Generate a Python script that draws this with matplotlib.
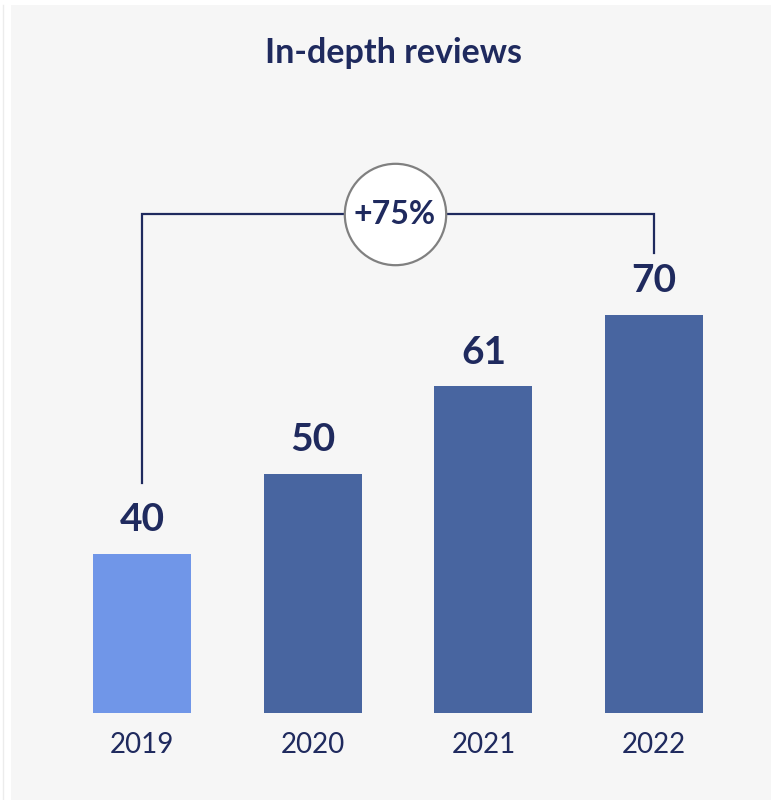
import matplotlib.pyplot as plt
from matplotlib.patches import Rectangle
from matplotlib.lines import Line2D

plt.rcParams['font.family'] = ['Lato', 'DejaVu Sans']

years = ['2019', '2020', '2021', '2022']
reviews = [40, 50, 61, 70]
growth_label = '+75%'

navy = '#1f2a5e'
bar_colors = ['#7096e8', '#4865a0', '#4865a0', '#4865a0']

fig = plt.figure(figsize=(7.71, 8), dpi=100)
fig.patch.set_facecolor('white')

# grey card behind the chart
fig.add_artist(Rectangle((11 / 771, 0), 1, 1 - 5 / 800, transform=fig.transFigure,
                         facecolor='#f6f6f6', edgecolor='none', zorder=0))
fig.add_artist(Line2D([2.5 / 771, 2.5 / 771], [0, 1 - 5 / 800], transform=fig.transFigure,
                      color='#ececec', lw=1, zorder=0))

ax = fig.add_axes([0, 87 / 800, 1, 713 / 800])
ax.set_facecolor('none')
x = list(range(len(years)))
ax.bar(x, reviews, width=0.575, color=bar_colors, zorder=2)
ax.set_xlim(-0.832, 3.685)
ax.set_ylim(20, 109.5)

for xi, v in zip(x, reviews):
    ax.text(xi, v + 2.1, str(v), ha='center', va='bottom', fontsize=28,
            fontweight='bold', color=navy)

ax.set_xticks(x)
ax.set_xticklabels(years, fontsize=20, color=navy)
ax.tick_params(axis='x', length=0, pad=14)
ax.set_yticks([])
for s in ax.spines.values():
    s.set_visible(False)

# bracket from the first to the last year
top = 82.6
ax.plot([x[0], x[0], x[-1], x[-1]], [reviews[0] + 8.9, top, top, reviews[-1] + 7.7],
        color=navy, lw=1.6, zorder=3, solid_joinstyle='miter')
cx = 1.48
ax.plot(cx, top, 'o', ms=73, mfc='white', mec='#808080', mew=1.6, zorder=4)
ax.text(cx, top, growth_label, ha='center', va='center', fontsize=23,
        fontweight='bold', color=navy, zorder=5)

fig.text(394 / 771, 1 - 53 / 800, 'In-depth reviews', ha='center', va='center',
         fontsize=24.5, fontweight='bold', color=navy)

fig.savefig('out.png', dpi=100, facecolor=fig.get_facecolor())
